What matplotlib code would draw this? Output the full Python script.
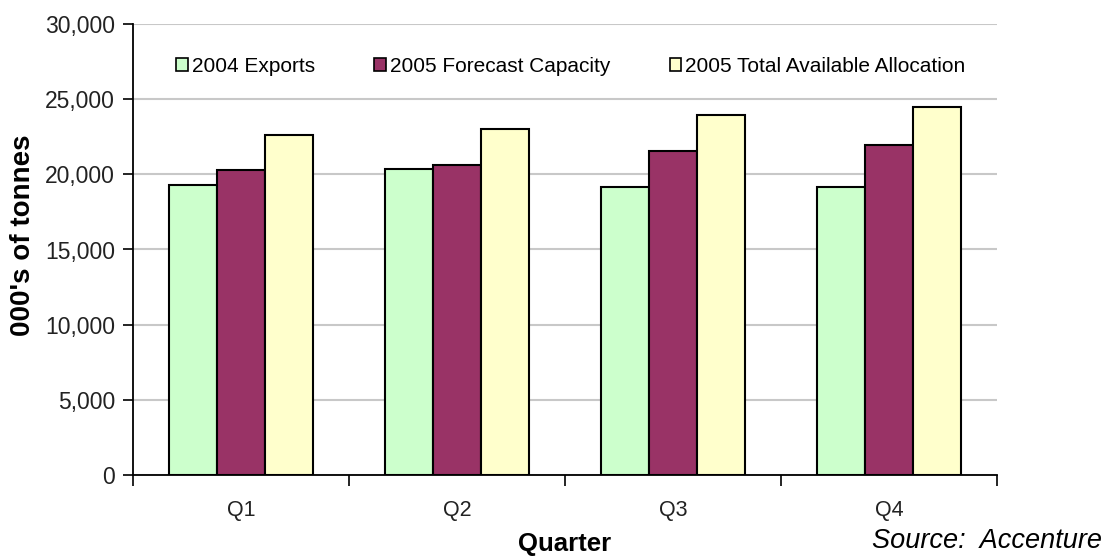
import matplotlib
matplotlib.use("Agg")
import matplotlib.pyplot as plt
import numpy as np

categories = ["Q1", "Q2", "Q3", "Q4"]
series_names = ["2004 Exports", "2005 Forecast Capacity", "2005 Total Available Allocation"]
exports_2004 = [19300, 20380, 19190, 19190]
forecast_2005 = [20260, 20640, 21580, 21970]
allocation_2005 = [22630, 23010, 23950, 24490]
colors = ["#CCFFCC", "#993366", "#FFFFCC"]
yticks = [0, 5000, 10000, 15000, 20000, 25000, 30000]

plt.rcParams['font.family'] = ['Liberation Sans', 'DejaVu Sans']

fig = plt.figure(figsize=(11.05, 5.56), dpi=100)
ax = fig.add_axes([133/1105, 1-475/556, (997-133)/1105, (475-24)/556])

x = np.arange(len(categories))
w = 0.222
data = [exports_2004, forecast_2005, allocation_2005]
for i, (vals, c, name) in enumerate(zip(data, colors, series_names)):
    ax.bar(x + (i-1)*w, vals, width=w, color=c, edgecolor='black', linewidth=1.5,
           label=name, zorder=3)

ax.set_xlim(-0.5, 3.5)
ax.set_ylim(0, 30000)
ax.set_yticks(yticks)
ax.set_yticklabels([f"{v:,}" for v in yticks], fontsize=16.5, color='#222222')
ax.yaxis.grid(True, color='#c8c8c8', linewidth=1.5, zorder=0)
ax.set_axisbelow(True)

ax.set_xticks(x)
ax.set_xticklabels(categories, fontsize=15.5, color='#222222')
ax.tick_params(axis='x', length=0, pad=18)
ax.set_xticks(np.arange(-0.5, 4.0, 1.0), minor=True)
ax.tick_params(axis='x', which='minor', length=8, width=1.2, direction='out')
ax.tick_params(axis='y', length=7, width=1.2, direction='out', pad=6)

for s in ['top', 'right']:
    ax.spines[s].set_visible(False)
for s in ['left', 'bottom']:
    ax.spines[s].set_linewidth(1.3)

ax.set_ylabel("000's of tonnes", fontsize=20, fontweight='bold')
ax.yaxis.set_label_coords((36-133)/864, (475-235)/451)
fig.text(565/1105, 1-544/556, "Quarter", fontsize=18.5, fontweight='bold',
         ha='center', va='center')
fig.text(1102/1105, 1-541/556, "Source:  Accenture", fontsize=19.5, style='italic',
         ha='right', va='center')

leg = ax.legend(loc='upper center', bbox_to_anchor=(0.507, 0.968), ncol=3, frameon=False,
                fontsize=15, handlelength=0.55, handleheight=0.6, handletextpad=0.2,
                columnspacing=2.85)
for p in leg.get_patches():
    p.set_linewidth(1.2)

fig.savefig("out.png", dpi=100)
